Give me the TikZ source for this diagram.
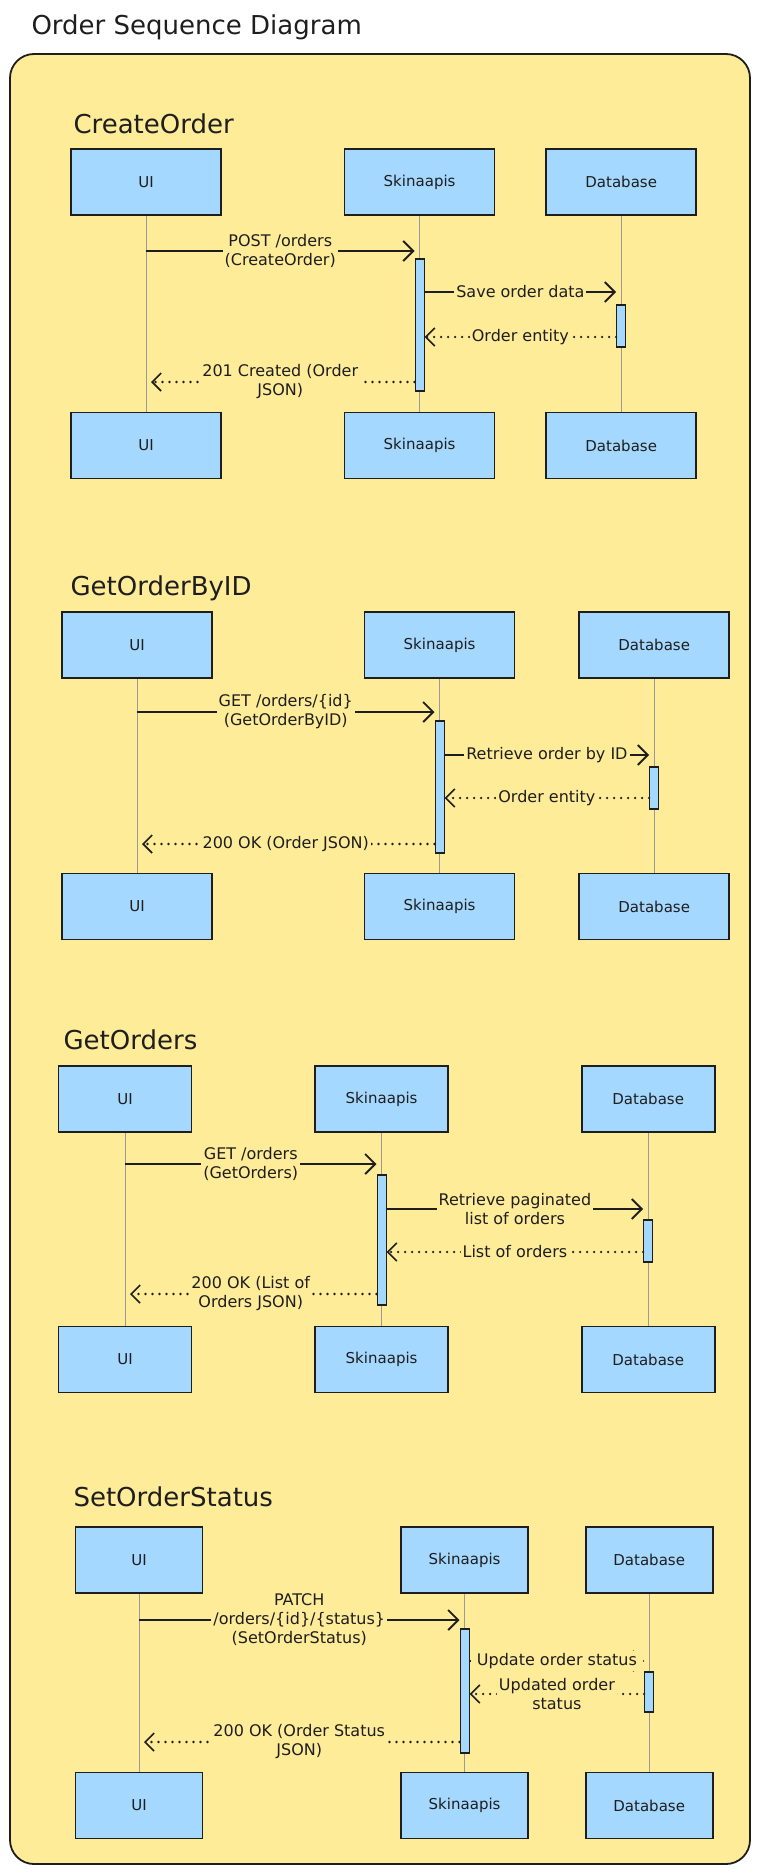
\documentclass[tikz,border=0pt]{standalone}
\usepackage{fontspec}
\setmainfont{DejaVu Sans}
\usepackage{xcolor}
\usepackage{tikz}
\usetikzlibrary{arrows.meta, positioning}

\definecolor{bgyellow}{HTML}{FFEC99}
\definecolor{boxblue}{HTML}{A5D8FF}
\definecolor{ink}{HTML}{1E1E1E}
\definecolor{lifegray}{HTML}{9A9A9A}

\begin{document}
\begin{tikzpicture}[
    x=1pt, y=-1pt,
    node distance=50pt,
    actor/.style={rectangle, draw=ink, fill=boxblue, line width=1.6pt, minimum height=66pt, inner sep=0pt, text=ink, font=\fontsize{15}{18}\selectfont},
    actbar/.style={rectangle, draw=ink, fill=boxblue, line width=1.2pt, minimum width=9pt, inner sep=0pt},
    heading/.style={anchor=west, text=ink, font=\fontsize{26}{30}\selectfont},
    lifeline/.style={draw=lifegray, line width=0.8pt},
    call/.style={draw=ink, line width=1.9pt, -{Straight Barb[length=10pt, width=20pt]}},
    reply/.style={draw=ink, line width=2.6pt, line cap=round, dash pattern=on 0pt off 7pt, -{Straight Barb[length=9pt, width=18pt, line width=1.6pt]}},
    msglabel/.style={fill=bgyellow, inner sep=2pt, align=center, text=ink, font=\fontsize{16}{19}\selectfont}
]
\useasboundingbox (0,0) rectangle (760,1873);

% Frame and title
\node[heading] (title) at (28,27) {Order Sequence Diagram};
\draw[draw=ink, fill=bgyellow, line width=1.8pt, rounded corners=24pt] (10,54) rectangle (750,1864);

% CreateOrder
\node[heading] (headA) at (70,124) {CreateOrder};
\node[actor, minimum width=150pt] (uiA) at (146,182) {UI};
\node[actor, minimum width=150pt, right=122pt of uiA] (skA) {Skinaapis};
\node[actor, minimum width=150pt, right=50pt of skA] (dbA) {Database};
\node[actor, minimum width=150pt, below=196pt of uiA] (uiA2) {UI};
\node[actor, minimum width=150pt, below=196pt of skA] (skA2) {Skinaapis};
\node[actor, minimum width=150pt, below=196pt of dbA] (dbA2) {Database};
\draw[lifeline] (uiA.south) -- (uiA2.north);
\draw[lifeline] (skA.south) -- (skA2.north);
\draw[lifeline] (dbA.south) -- (dbA2.north);
\node[actbar, minimum height=132pt] (actSA) at (skA |- 0,325) {};
\node[actbar, minimum height=42pt] (actDA) at (dbA |- 0,326) {};
\draw[call] (uiA |- 0,251) -- (actSA.west |- 0,251) node[msglabel, midway] {POST /orders\\(CreateOrder)};
\draw[call] (actSA.east |- 0,292) -- (actDA.west |- 0,292) node[msglabel, midway] {Save order data};
\draw[reply] (actDA.west |- 0,337) -- (actSA.east |- 0,337) node[msglabel, midway] {Order entity};
\draw[reply, shorten >=5pt] (actSA.west |- 0,382) -- (uiA |- 0,382) node[msglabel, midway] {201 Created (Order\\JSON)};

% GetOrderByID
\node[heading] (headB) at (67,588) {GetOrderByID};
\node[actor, minimum width=150pt] (uiB) at (137,645) {UI};
\node[actor, minimum width=150pt, right=151pt of uiB] (skB) {Skinaapis};
\node[actor, minimum width=150pt, right=63pt of skB] (dbB) {Database};
\node[actor, minimum width=150pt, below=194pt of uiB] (uiB2) {UI};
\node[actor, minimum width=150pt, below=194pt of skB] (skB2) {Skinaapis};
\node[actor, minimum width=150pt, below=194pt of dbB] (dbB2) {Database};
\draw[lifeline] (uiB.south) -- (uiB2.north);
\draw[lifeline] (skB.south) -- (skB2.north);
\draw[lifeline] (dbB.south) -- (dbB2.north);
\node[actbar, minimum height=132pt] (actSB) at (skB |- 0,787) {};
\node[actbar, minimum height=42pt] (actDB) at (dbB |- 0,788) {};
\draw[call] (uiB |- 0,712) -- (actSB.west |- 0,712) node[msglabel, midway] {GET /orders/\{id\}\\(GetOrderByID)};
\draw[call] (actSB.east |- 0,755) -- (actDB.west |- 0,755) node[msglabel, midway] {Retrieve order by ID};
\draw[reply] (actDB.west |- 0,798) -- (actSB.east |- 0,798) node[msglabel, midway] {Order entity};
\draw[reply, shorten >=5pt] (actSB.west |- 0,844) -- (uiB |- 0,844) node[msglabel, midway] {200 OK (Order JSON)};

% GetOrders
\node[heading] (headC) at (60,1040) {GetOrders};
\node[actor, minimum width=133pt] (uiC) at (125,1099) {UI};
\node[actor, minimum width=133pt, right=122pt of uiC] (skC) {Skinaapis};
\node[actor, minimum width=133pt, right=132pt of skC] (dbC) {Database};
\node[actor, minimum width=133pt, below=193pt of uiC] (uiC2) {UI};
\node[actor, minimum width=133pt, below=193pt of skC] (skC2) {Skinaapis};
\node[actor, minimum width=133pt, below=193pt of dbC] (dbC2) {Database};
\draw[lifeline] (uiC.south) -- (uiC2.north);
\draw[lifeline] (skC.south) -- (skC2.north);
\draw[lifeline] (dbC.south) -- (dbC2.north);
\node[actbar, minimum height=130pt] (actSC) at (skC |- 0,1240) {};
\node[actbar, minimum height=42pt] (actDC) at (dbC |- 0,1241) {};
\draw[call] (uiC |- 0,1164) -- (actSC.west |- 0,1164) node[msglabel, midway] {GET /orders\\(GetOrders)};
\draw[call] (actSC.east |- 0,1209) -- (actDC.west |- 0,1209) node[msglabel, midway] {Retrieve paginated\\list of orders};
\draw[reply] (actDC.west |- 0,1252) -- (actSC.east |- 0,1252) node[msglabel, midway] {List of orders};
\draw[reply, shorten >=5pt] (actSC.west |- 0,1294) -- (uiC |- 0,1294) node[msglabel, midway] {200 OK (List of\\Orders JSON)};

% SetOrderStatus
\node[heading] (headD) at (70,1497) {SetOrderStatus};
\node[actor, minimum width=127pt] (uiD) at (139,1560) {UI};
\node[actor, minimum width=127pt, right=197pt of uiD] (skD) {Skinaapis};
\node[actor, minimum width=127pt, right=56pt of skD] (dbD) {Database};
\node[actor, minimum width=127pt, below=178pt of uiD] (uiD2) {UI};
\node[actor, minimum width=127pt, below=178pt of skD] (skD2) {Skinaapis};
\node[actor, minimum width=127pt, below=178pt of dbD] (dbD2) {Database};
\draw[lifeline] (uiD.south) -- (uiD2.north);
\draw[lifeline] (skD.south) -- (skD2.north);
\draw[lifeline] (dbD.south) -- (dbD2.north);
\node[actbar, minimum height=124pt] (actSD) at (skD |- 0,1691) {};
\node[actbar, minimum height=40pt] (actDD) at (dbD |- 0,1692) {};
\draw[call] (uiD |- 0,1620) -- (actSD.west |- 0,1620) node[msglabel, midway] {PATCH\\/orders/\{id\}/\{status\}\\(SetOrderStatus)};
\draw[call] (actSD.east |- 0,1661) -- (actDD.west |- 0,1661) node[msglabel, midway, inner xsep=6pt] {Update order status};
\draw[reply] (actDD.west |- 0,1694) -- (actSD.east |- 0,1694) node[msglabel, midway] {Updated order\\status};
\draw[reply, shorten >=5pt] (actSD.west |- 0,1742) -- (uiD |- 0,1742) node[msglabel, midway] {200 OK (Order Status\\JSON)};

\end{tikzpicture}
\end{document}
